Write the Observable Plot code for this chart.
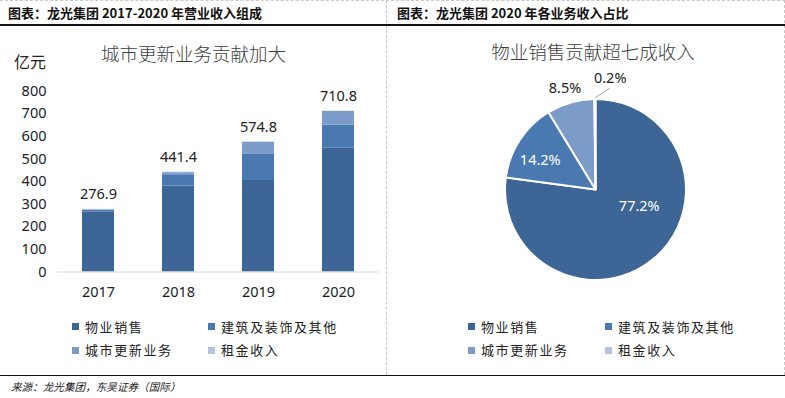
<!DOCTYPE html>
<html><head><meta charset="utf-8">
<script src="https://cdn.jsdelivr.net/npm/d3@7"></script>
<script src="https://cdn.jsdelivr.net/npm/@observablehq/plot@0.6"></script>
<style>
body{margin:0;background:#fff;}
#root{position:relative;width:785px;height:398px;overflow:hidden;font-family:"Noto Sans","Noto Sans CJK SC",sans-serif;color:#222;}
.abs{position:absolute;white-space:nowrap;}
.hdr{font-size:13px;font-weight:bold;line-height:16px;color:#111;font-family:"Noto Sans CJK SC",sans-serif;}
.ttl{font-size:18.5px;line-height:22px;font-weight:300;color:#404040;font-family:"Noto Sans CJK SC",sans-serif;transform:translateX(-50%);}
.leg{font-size:13px;line-height:16px;letter-spacing:1.6px;color:#222;font-family:"Noto Sans CJK SC",sans-serif;}
.sw{position:absolute;width:7px;height:7px;}
svg{overflow:visible;}
</style></head><body><div id="root"></div>
<script>
// ---- data ----
const years = ["2017", "2018", "2019", "2020"];
const categories = ["物业销售", "建筑及装饰及其他", "城市更新业务", "租金收入"];
const salesValues = [266.0, 380.0, 404.4, 548.5];
const constructionValues = [7.0, 46.5, 118.0, 100.6];
const renewalValues = [2.0, 12.4, 51.0, 60.4];
const rentValues = [1.9, 2.5, 1.4, 1.3];
const totals = [276.9, 441.4, 574.8, 710.8];
const yTicks = [0, 100, 200, 300, 400, 500, 600, 700, 800];
const share2020 = [77.2, 14.2, 8.5, 0.2];
const colors = ["#3d6596", "#4a78b0", "#7d9bc8", "#b5c4de"];

const leftHeader = "图表：龙光集团 2017-2020 年营业收入组成";
const rightHeader = "图表：龙光集团 2020 年各业务收入占比";
const barTitle = "城市更新业务贡献加大";
const pieTitle = "物业销售贡献超七成收入";
const unitLabel = "亿元";
const sourceText = "来源：龙光集团，东吴证券（国际）";

// ---- layout (not data) ----
const pieLabelLayout = [
  {shift: -28.4, r: 0.51, fill: "#fff"},
  {shift: -4.8, r: 0.70, fill: "#fff"},
  {shift: -1.0, r: 1.17, fill: "#222"},
  {shift: 7.6, r: 1.245, fill: "#222"}
];

const root = document.getElementById("root");
function addDiv(cls, text, css) {
  const d = document.createElement("div");
  d.className = "abs " + cls;
  if (text != null) d.textContent = text;
  Object.assign(d.style, css);
  root.appendChild(d);
  return d;
}

// frame lines
addDiv("", null, {left: "0px", top: "0px", width: "785px", height: "0px", borderTop: "1px dashed #c8c8c8"});
addDiv("", null, {left: "386px", top: "0px", width: "0px", height: "375px", borderLeft: "1px dashed #c8c8c8"});
addDiv("", null, {left: "784px", top: "0px", width: "0px", height: "375px", borderLeft: "1px dashed #c8c8c8"});
addDiv("", null, {left: "0px", top: "24px", width: "785px", height: "1.5px", background: "#111"});
addDiv("", null, {left: "0px", top: "374.5px", width: "785px", height: "1.5px", background: "#111"});

addDiv("hdr", leftHeader, {left: "8px", top: "5px"});
addDiv("hdr", rightHeader, {left: "397px", top: "5px"});
addDiv("ttl", barTitle, {left: "193.5px", top: "41.5px"});
addDiv("ttl", pieTitle, {left: "593px", top: "39.5px"});
addDiv("", unitLabel, {left: "14px", top: "52px", fontSize: "16px", lineHeight: "18px", color: "#222", fontFamily: "'Noto Sans CJK SC',sans-serif"});
addDiv("", sourceText, {left: "11px", top: "380px", fontSize: "10.6px", lineHeight: "14px", fontStyle: "italic", color: "#222", fontFamily: "'Noto Sans CJK SC',sans-serif"});

// legends
function legend(cols, rows) {
  categories.forEach((c, i) => {
    const x = cols[i % 2], y = rows[Math.floor(i / 2)];
    const s = document.createElement("div");
    s.className = "sw";
    Object.assign(s.style, {left: x + "px", top: (y - 3.5) + "px", background: colors[i]});
    root.appendChild(s);
    addDiv("leg", c, {left: (x + 13) + "px", top: (y - 8) + "px"});
  });
}
legend([72, 208], [326.5, 350]);
legend([468, 605], [326.5, 350]);

// ---- bar chart ----
const barData = [];
const seriesArrays = [salesValues, constructionValues, renewalValues, rentValues];
years.forEach((yr, i) => {
  seriesArrays.forEach((arr, j) => barData.push({year: yr, category: categories[j], value: arr[i]}));
});
const totalData = years.map((yr, i) => ({year: yr, total: totals[i]}));

const bar = Plot.plot({
  width: 385, height: 240,
  marginLeft: 57, marginRight: 7, marginTop: 30.5, marginBottom: 28.5,
  style: {fontFamily: "'Noto Sans','Noto Sans CJK SC',sans-serif", fontSize: "14.5px", color: "#222", background: "transparent", overflow: "visible"},
  x: {domain: years, paddingInner: 0.6, paddingOuter: 0.3, tickSize: 0, tickPadding: 14.5, label: null},
  y: {domain: [0, 800], ticks: yTicks, tickSize: 0, tickPadding: 11, label: null},
  color: {domain: categories, range: colors},
  marks: [
    Plot.barY(barData, {x: "year", y: "value", fill: "category"}),
    Plot.ruleY([0], {stroke: "#d9d9d9", strokeWidth: 1}),
    Plot.text(totalData, {x: "year", y: "total", text: d => d.total.toFixed(1), dy: -15, fontSize: 14.5, fill: "#222"})
  ]
});
Object.assign(bar.style, {position: "absolute", left: "0px", top: "60px"});
root.appendChild(bar);

// ---- pie chart ----
const pieData = categories.map((c, i) => ({category: c, share: share2020[i]}));
const arcs = d3.pie().sort(null).value(d => d.share)(pieData);
const colorScale = Plot.scale({color: {domain: categories, range: colors}});
const deg = Math.PI / 180;
const labelData = arcs.map((a, i) => {
  const L = pieLabelLayout[i];
  const ang = (a.startAngle + a.endAngle) / 2 + L.shift * deg;
  return {x: L.r * Math.sin(ang), y: L.r * Math.cos(ang), text: share2020[i].toFixed(1) + "%", fill: L.fill};
});
const small = arcs[3];
const smallMid = (small.startAngle + small.endAngle) / 2;
const leader = [{
  x1: 1.02 * Math.sin(smallMid), y1: 1.02 * Math.cos(smallMid),
  x2: 1.135 * Math.sin(smallMid + 8 * deg), y2: 1.135 * Math.cos(smallMid + 8 * deg)
}];

function pieMark(index, scales, values, dimensions) {
  let sx = scales && scales.x, sy = scales && scales.y;
  const {width, height, marginLeft, marginRight, marginTop, marginBottom} = dimensions;
  if (!sx) sx = v => marginLeft + (v + 1) / 2 * (width - marginLeft - marginRight);
  if (!sy) sy = v => marginTop + (1 - v) / 2 * (height - marginTop - marginBottom);
  const cx = sx(0), cy = sy(0), r = sx(1) - sx(0);
  const g = d3.create("svg:g").attr("transform", `translate(${cx},${cy})`);
  const arc = d3.arc().innerRadius(0).outerRadius(r);
  g.selectAll("path").data(arcs).join("path")
    .attr("d", arc)
    .attr("fill", d => colorScale.apply(d.data.category))
    .attr("stroke", "#fff").attr("stroke-width", 2).attr("stroke-linejoin", "round");
  return g.node();
}

const pie = Plot.plot({
  width: 393, height: 230,
  marginLeft: 113, marginRight: 99, marginTop: 39, marginBottom: 10,
  style: {fontFamily: "'Noto Sans','Noto Sans CJK SC',sans-serif", fontSize: "14.5px", color: "#222", background: "transparent", overflow: "visible"},
  x: {domain: [-1, 1], axis: null},
  y: {domain: [-1, 1], axis: null},
  marks: [
    Plot.dot([{x: -1, y: -1}, {x: 1, y: 1}], {x: "x", y: "y", r: 0}),
    pieMark,
    Plot.link(leader, {x1: "x1", y1: "y1", x2: "x2", y2: "y2", stroke: "#a6a6a6", strokeWidth: 1}),
    Plot.text(labelData, {x: "x", y: "y", text: "text", fill: d => d.fill, fontSize: 14.5})
  ]
});
Object.assign(pie.style, {position: "absolute", left: "392px", top: "60px"});
root.appendChild(pie);
</script>
</body></html>
